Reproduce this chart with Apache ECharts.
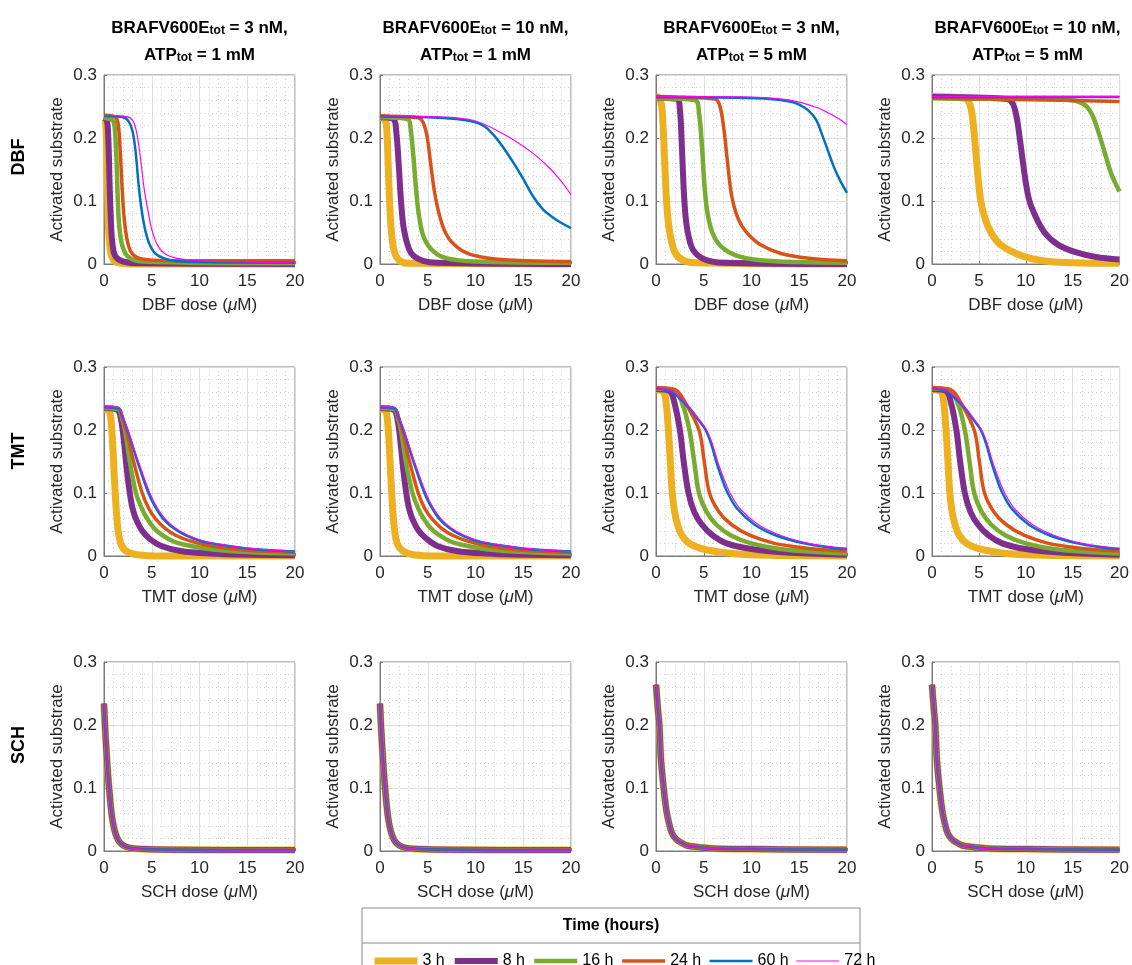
<!DOCTYPE html>
<html>
<head>
<meta charset="utf-8">
<script src="https://cdn.jsdelivr.net/npm/echarts@6/dist/echarts.min.js"></script>
<style>
html, body { margin: 0; padding: 0; background: #fff; }
#main { width: 1132px; height: 965px; }
</style>
</head>
<body>
<div id="main"></div>
<script>
// ---------------- data ----------------
var TIMES = ['3 h', '8 h', '16 h', '24 h', '60 h', '72 h'];
var DRUGS = ['DBF', 'TMT', 'SCH'];
var BRAF_CONC = ['3 nM', '10 nM', '3 nM', '10 nM'];
var ATP_CONC = ['1 mM', '1 mM', '5 mM', '5 mM'];
var X_TICKS = [0, 5, 10, 15, 20];
var Y_TICKS = [0, 0.1, 0.2, 0.3];

// every panel: one list of [dose uM, activated substrate] per time (3, 8, 16, 24, 60, 72 h)
var DBF_A = [
  [[0,0.233],[0.1,0.232],[0.2,0.22],[0.3,0.17],[0.4,0.1],[0.5,0.05],[0.7,0.018],[1,0.006],[1.5,0.002],[3,0],[20,0]],
  [[0,0.232],[0.3,0.228],[0.45,0.2],[0.6,0.12],[0.75,0.06],[0.9,0.03],[1.2,0.012],[2,0.004],[4,0.001],[20,0]],
  [[0,0.232],[0.9,0.228],[1.1,0.22],[1.3,0.17],[1.45,0.1],[1.6,0.06],[1.9,0.03],[2.5,0.012],[4,0.004],[20,0.001]],
  [[0,0.236],[1.2,0.233],[1.5,0.22],[1.7,0.18],[1.9,0.12],[2.1,0.075],[2.4,0.04],[2.8,0.02],[3.5,0.01],[5,0.006],[10,0.005],[20,0.005]],
  [[0,0.235],[2,0.233],[2.6,0.226],[3.0,0.21],[3.3,0.18],[3.6,0.13],[3.9,0.09],[4.3,0.055],[4.8,0.03],[5.5,0.015],[7,0.006],[10,0.003],[20,0.002]],
  [[0,0.236],[2.4,0.234],[3.0,0.228],[3.4,0.21],[3.8,0.17],[4.2,0.12],[4.6,0.085],[5.0,0.055],[5.6,0.03],[6.5,0.015],[8,0.008],[10,0.005],[20,0.002]]
];
var DBF_B = [
  [[0,0.233],[0.5,0.23],[0.7,0.215],[0.85,0.16],[1.0,0.1],[1.2,0.05],[1.5,0.02],[2,0.006],[3,0.001],[20,0]],
  [[0,0.233],[1.4,0.23],[1.7,0.21],[1.95,0.16],[2.2,0.1],[2.5,0.055],[3,0.025],[3.5,0.013],[4.5,0.005],[6,0.002],[20,0]],
  [[0,0.233],[2.9,0.23],[3.2,0.215],[3.5,0.17],[3.8,0.115],[4.1,0.075],[4.6,0.042],[5.6,0.02],[7,0.009],[10,0.004],[20,0.002]],
  [[0,0.235],[4,0.232],[4.5,0.225],[4.9,0.205],[5.3,0.16],[5.7,0.115],[6.1,0.085],[6.7,0.055],[7.5,0.035],[9,0.018],[11,0.01],[14,0.006],[20,0.004]],
  [[0,0.234],[5,0.233],[8,0.23],[10,0.225],[11,0.218],[12,0.203],[13,0.183],[14,0.16],[15,0.135],[16,0.108],[17,0.088],[18,0.075],[19,0.065],[20,0.057]],
  [[0,0.235],[5,0.234],[8,0.232],[10,0.227],[12,0.214],[14,0.197],[16,0.176],[17.5,0.156],[18.5,0.14],[19.3,0.125],[20,0.11]]
];
var DBF_C = [
  [[0,0.266],[0.3,0.264],[0.6,0.25],[0.8,0.2],[1.0,0.13],[1.2,0.08],[1.5,0.045],[2,0.018],[2.8,0.006],[4,0.002],[20,0]],
  [[0,0.264],[2.2,0.262],[2.5,0.245],[2.7,0.19],[2.9,0.12],[3.1,0.075],[3.4,0.045],[3.9,0.022],[5,0.008],[7,0.002],[20,0]],
  [[0,0.263],[4.1,0.26],[4.5,0.24],[4.8,0.19],[5.1,0.12],[5.4,0.08],[5.9,0.05],[6.8,0.028],[8.5,0.013],[11,0.006],[15,0.003],[20,0.002]],
  [[0,0.265],[6.2,0.262],[6.7,0.25],[7.1,0.215],[7.5,0.16],[7.9,0.11],[8.4,0.08],[9.0,0.06],[9.8,0.045],[11,0.03],[13,0.017],[16,0.009],[20,0.005]],
  [[0,0.265],[8,0.264],[12,0.262],[14,0.258],[15,0.253],[16,0.243],[16.8,0.228],[17.4,0.205],[18,0.18],[18.6,0.155],[19.3,0.132],[20,0.113]],
  [[0,0.266],[10,0.265],[13,0.262],[15,0.257],[16.5,0.25],[17.5,0.244],[18.5,0.236],[19.3,0.229],[20,0.221]]
];
var DBF_D = [
  [[0,0.266],[3.5,0.263],[4,0.255],[4.3,0.235],[4.6,0.19],[4.9,0.14],[5.2,0.1],[5.7,0.07],[6.3,0.05],[7.2,0.032],[8.9,0.017],[10.5,0.009],[12.5,0.004],[15,0.002],[20,0.001]],
  [[0,0.265],[8,0.262],[8.6,0.255],[9.0,0.235],[9.4,0.195],[9.8,0.15],[10.3,0.105],[10.9,0.08],[12,0.05],[13.5,0.03],[15.5,0.018],[17.5,0.011],[20,0.007]],
  [[0,0.263],[10,0.262],[14,0.261],[15.5,0.258],[16.5,0.25],[17.2,0.233],[17.8,0.207],[18.4,0.178],[19,0.148],[19.5,0.13],[20,0.115]],
  [[0,0.263],[10,0.261],[20,0.258]],
  [[0,0.265],[20,0.265]],
  [[0,0.266],[20,0.266]]
];
var TMT_A = [
  [[0,0.233],[0.5,0.231],[0.7,0.22],[0.9,0.18],[1.1,0.12],[1.3,0.07],[1.5,0.038],[1.8,0.018],[2.3,0.008],[3.5,0.002],[6,0],[20,0]],
  [[0,0.235],[1.4,0.232],[1.8,0.215],[2.1,0.18],[2.4,0.135],[2.7,0.1],[3.0,0.075],[3.4,0.057],[4.0,0.04],[4.8,0.027],[6,0.016],[8,0.008],[11,0.004],[15,0.002],[20,0.001]],
  [[0,0.235],[1.5,0.233],[1.9,0.218],[2.2,0.2],[2.7,0.15],[3.35,0.1],[4,0.074],[4.5,0.06],[5.2,0.045],[6.1,0.033],[7.3,0.023],[8.7,0.017],[11,0.011],[14,0.007],[17,0.005],[20,0.004]],
  [[0,0.236],[1.5,0.234],[1.9,0.22],[2.3,0.2],[3.1,0.15],[4,0.1],[4.7,0.075],[5.4,0.059],[6.4,0.044],[7.5,0.033],[9,0.024],[10.8,0.017],[13,0.012],[16,0.008],[20,0.006]],
  [[0,0.236],[1.5,0.235],[1.9,0.222],[2.45,0.2],[3.5,0.15],[4.65,0.1],[5.4,0.077],[6.2,0.059],[7.3,0.044],[8.5,0.033],[10.3,0.023],[12.5,0.017],[15,0.012],[17.5,0.009],[20,0.007]],
  [[0,0.237],[1.5,0.236],[1.9,0.224],[2.5,0.2],[3.6,0.15],[4.8,0.1],[5.55,0.077],[6.4,0.059],[7.5,0.044],[8.8,0.033],[10.6,0.023],[12.8,0.017],[15.3,0.012],[17.8,0.009],[20,0.007]]
];
var TMT_B = [
  [[0,0.233],[0.55,0.231],[0.75,0.22],[0.95,0.18],[1.15,0.12],[1.35,0.07],[1.55,0.038],[1.85,0.018],[2.4,0.008],[3.5,0.002],[6,0],[20,0]],
  [[0,0.235],[1.45,0.232],[1.85,0.215],[2.15,0.18],[2.45,0.135],[2.75,0.1],[3.05,0.075],[3.45,0.057],[4.05,0.04],[4.9,0.027],[6,0.016],[8,0.008],[11,0.004],[15,0.002],[20,0.001]],
  [[0,0.235],[1.5,0.233],[1.9,0.218],[2.2,0.2],[2.7,0.15],[3.4,0.1],[4.05,0.074],[4.55,0.06],[5.25,0.045],[6.2,0.033],[7.4,0.023],[8.8,0.017],[11,0.011],[14,0.007],[17,0.005],[20,0.004]],
  [[0,0.236],[1.5,0.234],[1.9,0.22],[2.3,0.2],[3.1,0.15],[4,0.1],[4.7,0.075],[5.45,0.059],[6.45,0.044],[7.6,0.033],[9.1,0.024],[10.9,0.017],[13,0.012],[16,0.008],[20,0.006]],
  [[0,0.236],[1.5,0.235],[1.9,0.222],[2.45,0.2],[3.5,0.15],[4.65,0.1],[5.4,0.077],[6.2,0.059],[7.3,0.044],[8.5,0.033],[10.3,0.023],[12.5,0.017],[15,0.012],[17.5,0.009],[20,0.007]],
  [[0,0.237],[1.5,0.236],[1.9,0.224],[2.5,0.2],[3.6,0.15],[4.8,0.1],[5.55,0.077],[6.4,0.059],[7.5,0.044],[8.8,0.033],[10.6,0.023],[12.8,0.017],[15.3,0.012],[17.8,0.009],[20,0.007]]
];
var TMT_C = [
  [[0,0.264],[0.7,0.262],[1.0,0.25],[1.25,0.21],[1.5,0.15],[1.7,0.1],[1.95,0.07],[2.25,0.05],[2.7,0.033],[3.5,0.02],[5.2,0.01],[8,0.004],[12,0.001],[20,0]],
  [[0,0.265],[1.4,0.262],[1.9,0.245],[2.5,0.2],[2.9,0.15],[3.4,0.1],[4.0,0.07],[4.8,0.05],[5.9,0.033],[7.4,0.02],[10,0.011],[14,0.005],[20,0.002]],
  [[0,0.266],[2,0.262],[2.8,0.24],[3.5,0.2],[4,0.15],[4.5,0.1],[5.3,0.07],[6.3,0.05],[7.8,0.033],[10,0.02],[13,0.011],[16,0.007],[20,0.004]],
  [[0,0.267],[2,0.264],[3,0.245],[4.5,0.2],[5.05,0.15],[5.6,0.1],[6.6,0.07],[7.9,0.05],[9.8,0.033],[12.4,0.02],[15,0.014],[17.5,0.01],[20,0.008]],
  [[0,0.266],[1.5,0.262],[2.5,0.25],[3.5,0.235],[4.5,0.215],[5.2,0.2],[5.8,0.177],[6.3,0.15],[6.9,0.123],[7.5,0.1],[8.5,0.075],[10.3,0.05],[12.5,0.033],[15.5,0.02],[18,0.014],[20,0.011]],
  [[0,0.267],[1.5,0.263],[2.5,0.252],[3.5,0.236],[4.5,0.217],[5.3,0.2],[5.9,0.178],[6.45,0.15],[7.1,0.123],[7.75,0.1],[8.8,0.075],[10.7,0.05],[13,0.033],[16,0.02],[18.3,0.015],[20,0.012]]
];
var TMT_D = [
  [[0,0.264],[0.9,0.262],[1.2,0.25],[1.45,0.21],[1.7,0.15],[1.9,0.1],[2.15,0.07],[2.45,0.05],[2.9,0.033],[3.7,0.02],[5.4,0.01],[8,0.004],[12,0.001],[20,0]],
  [[0,0.265],[1.5,0.262],[2.0,0.245],[2.6,0.2],[3.0,0.15],[3.5,0.1],[4.1,0.07],[4.9,0.05],[6,0.033],[7.5,0.02],[10,0.011],[14,0.005],[20,0.002]],
  [[0,0.266],[2,0.262],[2.8,0.24],[3.5,0.2],[4,0.15],[4.5,0.1],[5.3,0.07],[6.3,0.05],[7.8,0.033],[10,0.02],[13,0.011],[16,0.007],[20,0.004]],
  [[0,0.267],[2,0.264],[3,0.245],[4.5,0.2],[5.05,0.15],[5.6,0.1],[6.6,0.07],[7.9,0.05],[9.8,0.033],[12.4,0.02],[15,0.014],[17.5,0.01],[20,0.008]],
  [[0,0.266],[1.5,0.262],[2.5,0.25],[3.5,0.235],[4.5,0.215],[5.2,0.2],[5.8,0.177],[6.3,0.15],[6.9,0.123],[7.5,0.1],[8.5,0.075],[10.3,0.05],[12.5,0.033],[15.5,0.02],[18,0.014],[20,0.011]],
  [[0,0.267],[1.5,0.263],[2.5,0.252],[3.5,0.236],[4.5,0.217],[5.3,0.2],[5.9,0.178],[6.45,0.15],[7.1,0.123],[7.75,0.1],[8.8,0.075],[10.7,0.05],[13,0.033],[16,0.02],[18.3,0.015],[20,0.012]]
];
// SCH: all six time points lie on the same curve
var SCH_LOW_ATP = [[0,0.234],[0.1,0.2],[0.25,0.16],[0.4,0.125],[0.55,0.097],[0.7,0.072],[0.85,0.053],[1.0,0.04],[1.2,0.028],[1.5,0.017],[2,0.009],[2.7,0.005],[4,0.003],[8,0.002],[20,0.0015]];
var SCH_HIGH_ATP = [[0,0.264],[0.2,0.225],[0.35,0.2],[0.52,0.145],[0.8,0.1],[1.08,0.065],[1.35,0.045],[1.68,0.028],[2.1,0.019],[2.55,0.014],[3.2,0.009],[3.9,0.007],[6,0.004],[10,0.003],[20,0.002]];
var SCH_A = [SCH_LOW_ATP, SCH_LOW_ATP, SCH_LOW_ATP, SCH_LOW_ATP, SCH_LOW_ATP, SCH_LOW_ATP];
var SCH_B = SCH_A;
var SCH_C = [SCH_HIGH_ATP, SCH_HIGH_ATP, SCH_HIGH_ATP, SCH_HIGH_ATP, SCH_HIGH_ATP, SCH_HIGH_ATP];
var SCH_D = SCH_C;

var PANELS = [
  [DBF_A, DBF_B, DBF_C, DBF_D],
  [TMT_A, TMT_B, TMT_C, TMT_D],
  [SCH_A, SCH_B, SCH_C, SCH_D]
];

// ---------------- style / layout ----------------
var COLORS = ['#EDB120', '#7E2F8E', '#77AC30', '#D95319', '#0072BD', '#FF00FF'];
var WIDTHS = [7, 6, 4.5, 3.5, 2.5, 1.2];
var COL_LEFT = [104, 380, 656, 932];
var ROW_TOP = [75, 367, 662];
var PW = 191, PH = 189;
var FONT = '"Liberation Sans", Arial, Helvetica, sans-serif';
var TXT = '#262626';
var AXIS_C = '#7a7a7a';

var grids = [], xAxes = [], yAxes = [], series = [], graphics = [];

for (var r = 0; r < 3; r++) {
  for (var c = 0; c < 4; c++) {
    var idx = r * 4 + c;
    grids.push({
      left: COL_LEFT[c], top: ROW_TOP[r], width: PW, height: PH,
      show: true, borderColor: AXIS_C, borderWidth: 1, backgroundColor: '#fff'
    });
    xAxes.push({
      gridIndex: idx, type: 'value',
      min: X_TICKS[0], max: X_TICKS[X_TICKS.length - 1], interval: X_TICKS[1] - X_TICKS[0],
      name: DRUGS[r] + ' dose ({i|μ}M)', nameLocation: 'middle', nameGap: 33,
      nameTextStyle: { fontSize: 17, color: TXT, fontFamily: FONT,
        rich: { i: { fontSize: 17, fontStyle: 'italic', color: TXT, fontFamily: FONT } } },
      axisLine: { show: true, onZero: false, lineStyle: { color: AXIS_C, width: 1 } },
      axisTick: { show: true, inside: true, length: 3, lineStyle: { color: AXIS_C } },
      axisLabel: { fontSize: 17, color: TXT, margin: 9, fontFamily: FONT },
      splitLine: { show: true, lineStyle: { color: '#dedede', width: 1 } },
      minorTick: { show: false, splitNumber: 5 },
      minorSplitLine: { show: true, lineStyle: { color: '#d4d4d4', width: 1, type: [1, 3] } }
    });
    yAxes.push({
      gridIndex: idx, type: 'value',
      min: Y_TICKS[0], max: Y_TICKS[Y_TICKS.length - 1], interval: Y_TICKS[1] - Y_TICKS[0],
      name: 'Activated substrate', nameLocation: 'middle', nameGap: 38,
      nameTextStyle: { fontSize: 17, color: TXT, fontFamily: FONT },
      axisLine: { show: true, onZero: false, lineStyle: { color: AXIS_C, width: 1 } },
      axisTick: { show: true, inside: true, length: 3, lineStyle: { color: AXIS_C } },
      axisLabel: { fontSize: 17, color: TXT, margin: 7, fontFamily: FONT },
      splitLine: { show: true, lineStyle: { color: '#dedede', width: 1 } },
      minorTick: { show: false, splitNumber: 5 },
      minorSplitLine: { show: true, lineStyle: { color: '#d4d4d4', width: 1, type: [1, 3] } }
    });
    var curves = PANELS[r][c];
    for (var k = 0; k < TIMES.length; k++) {
      series.push({
        type: 'line', name: TIMES[k], xAxisIndex: idx, yAxisIndex: idx,
        data: curves[k], symbol: 'none', showSymbol: false,
        smooth: 0.35, clip: false, z: 2 + k,
        lineStyle: { color: COLORS[k], width: WIDTHS[k], join: 'round' },
        itemStyle: { color: COLORS[k] }
      });
    }
  }
}

// column titles
for (var c2 = 0; c2 < 4; c2++) {
  var cx = COL_LEFT[c2] + PW / 2;
  var rich = {
    b: { fontSize: 17, fontWeight: 'bold', fill: '#000', lineHeight: 22, verticalAlign: 'bottom', fontFamily: FONT },
    s: { fontSize: 12, fontWeight: 'bold', fill: '#000', lineHeight: 8, verticalAlign: 'bottom', fontFamily: FONT }
  };
  graphics.push({
    type: 'text', x: cx, y: 26,
    style: { text: '{b|BRAFV600E}{s|tot}{b| = ' + BRAF_CONC[c2] + ',}', rich: rich,
      align: 'center', verticalAlign: 'middle' }
  });
  graphics.push({
    type: 'text', x: cx, y: 53,
    style: { text: '{b|ATP}{s|tot}{b| = ' + ATP_CONC[c2] + '}', rich: rich,
      align: 'center', verticalAlign: 'middle' }
  });
}
// row labels
var ROW_LABEL_Y = [157, 451, 745];
for (var r2 = 0; r2 < 3; r2++) {
  graphics.push({
    type: 'text', x: 19, y: ROW_LABEL_Y[r2], rotation: Math.PI / 2,
    style: { text: DRUGS[r2], fontSize: 18, fontWeight: 'bold', fill: '#000',
      fontFamily: FONT, align: 'center', verticalAlign: 'middle' }
  });
}
// legend frame
graphics.push({ type: 'rect', shape: { x: 362, y: 908, width: 498, height: 62 },
  style: { fill: '#fff', stroke: '#8a8a8a', lineWidth: 1 }, z: -1 });
graphics.push({ type: 'line', shape: { x1: 362, y1: 943, x2: 860, y2: 943 },
  style: { stroke: '#8a8a8a', lineWidth: 1 } });
graphics.push({ type: 'text', x: 611, y: 926,
  style: { text: 'Time (hours)', fontSize: 16, fontWeight: 'bold', fill: '#000',
    fontFamily: FONT, align: 'center', verticalAlign: 'middle' } });

var chart = echarts.init(document.getElementById('main'), null, { renderer: 'canvas' });
chart.setOption({
  animation: false,
  backgroundColor: '#fff',
  textStyle: { fontFamily: FONT },
  grid: grids,
  xAxis: xAxes,
  yAxis: yAxes,
  legend: {
    data: TIMES.map(function (t, k) {
      return { name: t, itemStyle: { opacity: 0 },
        lineStyle: { width: WIDTHS[k], color: COLORS[k] } };
    }),
    left: 366, top: 948, itemWidth: 43, itemHeight: 14, itemGap: 7,
    selectedMode: false,
    textStyle: { fontSize: 16, color: '#000', fontFamily: FONT }
  },
  graphic: graphics,
  series: series
});
</script>
</body>
</html>
